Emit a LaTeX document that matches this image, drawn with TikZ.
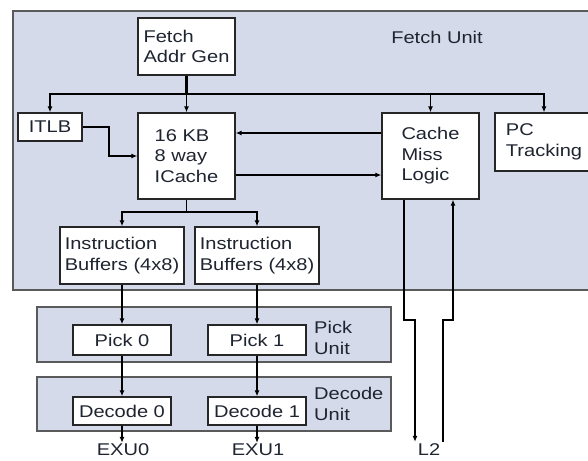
\documentclass[tikz,border=0pt]{standalone}
\usepackage{fontspec}
\setmainfont{Liberation Sans}[FakeStretch=1.18]
\usetikzlibrary{arrows.meta}
\definecolor{unitfill}{HTML}{D5DAEA}
\definecolor{unitline}{HTML}{5A5A5A}
\definecolor{txt}{HTML}{1E2430}
\begin{document}
\begin{tikzpicture}[x=1pt,y=-1pt, font=\fontsize{17}{20.5}\selectfont, text=txt,
  unit/.style={fill=unitfill, draw=unitline, line width=1.4pt, inner sep=0pt},
  blk/.style={draw=black!85, fill=white, line width=1.3pt, align=left, inner sep=0pt},
  arr/.style={line width=1.2pt, -{Latex[length=6pt,width=5pt]}},
  ln/.style={line width=1.3pt},
  lbl/.style={inner sep=0pt, align=left}]
\useasboundingbox (0,0) rectangle (588,460);
% unit boxes
\node[unit, minimum width=587, minimum height=279] (fu) at (306.5,150.5) {};
\node[unit, minimum width=354, minimum height=55] (pu) at (214,334.5) {};
\node[unit, minimum width=354, minimum height=54] (du) at (214,404) {};
\node[lbl] (fulbl) at (437,37) {Fetch Unit};
\node[lbl, anchor=west] (pulbl) at (314,338) {Pick\\Unit};
\node[lbl, anchor=west] (dulbl) at (314,404) {Decode\\Unit};
% blocks
\node[blk, minimum width=97, minimum height=57] (fag) at (186.5,46.5) {Fetch\\Addr Gen};
\node[blk, minimum width=64, minimum height=28] (itlb) at (50,127) {ITLB};
\node[blk, minimum width=97, minimum height=86] (ic) at (186.5,156) {16 KB\\8 way\\ICache};
\node[blk, minimum width=97, minimum height=86] (cml) at (430.5,156) {Cache\\Miss\\Logic};
\node[blk, minimum width=98, minimum height=58] (pc) at (544,142) {PC\\Tracking};
\node[blk, minimum width=124, minimum height=57] (ib1) at (122,255.5) {Instruction\\Buffers (4x8)};
\node[blk, minimum width=124, minimum height=57] (ib2) at (257,255.5) {Instruction\\Buffers (4x8)};
\node[blk, minimum width=98, minimum height=30] (pick0) at (122,340) {Pick 0};
\node[blk, minimum width=98, minimum height=30] (pick1) at (257,340) {Pick 1};
\node[blk, minimum width=98, minimum height=28] (dec0) at (122,411) {Decode 0};
\node[blk, minimum width=98, minimum height=28] (dec1) at (257,411) {Decode 1};
\node[lbl] (exu0) at (123,450) {EXU0};
\node[lbl] (exu1) at (258,450) {EXU1};
\node[lbl] (l2) at (429,450) {L2};
% connectors
\coordinate (bus) at (186.5,94);
\coordinate (split) at (186.5,212);
\coordinate (jl) at (415,320);
\coordinate (jr) at (453,320);
\coordinate (itj) at (109,127);
\draw[line width=2.6pt] (fag.south) -- (bus);
\draw[line width=1.8pt] (itlb.north |- bus) -- (pc.north |- bus);
\draw[arr] (bus) -- (ic.north);
\draw[arr] (bus) -| (itlb.north);
\draw[arr] (bus) -| (cml.north);
\draw[arr] (bus) -| (pc.north);
\draw[arr] (itlb.east) -- (itj) |- (ic.west);
\draw[arr] ([yshift=23]cml.west) -- ([yshift=23]ic.east);
\draw[arr] ([yshift=-19]ic.east) -- ([yshift=-19]cml.west);
\draw[ln] (ic.south) -- (split);
\draw[arr] (split) -| (ib1.north);
\draw[arr] (split) -| (ib2.north);
\draw[arr] (ib1.south) -- (pick0.north);
\draw[arr] (ib2.south) -- (pick1.north);
\draw[arr] (pick0.south) -- (dec0.north);
\draw[arr] (pick1.south) -- (dec1.north);
\draw[arr] (dec0.south) -- ([xshift=-1,yshift=1]exu0.north);
\draw[arr] (dec1.south) -- ([xshift=-1,yshift=1]exu1.north);
\draw[arr] ([xshift=-26.5]cml.south) |- (jl) -- ([xshift=-14,yshift=2]l2.north);
\draw[arr] ([xshift=14,yshift=2]l2.north) |- (jr) -- ([xshift=22.5]cml.south);
\end{tikzpicture}
\end{document}
